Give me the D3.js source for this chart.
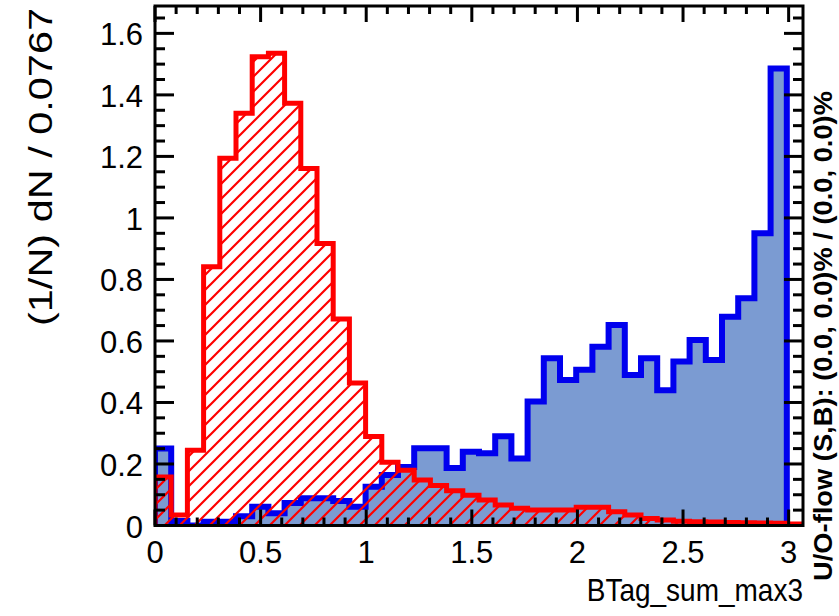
<!DOCTYPE html>
<html>
<head>
<meta charset="utf-8">
<script src="https://cdn.jsdelivr.net/npm/d3@7"></script>
<style>
  body { margin: 0; background: #fff; }
  text { font-family: "Liberation Sans", Arial, Helvetica, sans-serif; }
</style>
</head>
<body>
<script>
// DATA

const binWidth = 0.0767;
const nBins = 40;

// red hatched histogram
const redValues = [0.158, 0.034, 0.245, 0.841, 1.194, 1.340, 1.524, 1.535, 1.373, 1.161,
                   0.917, 0.671, 0.463, 0.289, 0.206, 0.180, 0.148, 0.130, 0.113, 0.098,
                   0.083, 0.067, 0.056, 0.050, 0.050, 0.050, 0.059, 0.059, 0.045, 0.034,
                   0.023, 0.018, 0.014, 0.012, 0.011, 0.010, 0.009, 0.008, 0.007, 0.005];

// blue filled histogram
const blueValues = [0.250, 0.015, 0.000, 0.012, 0.012, 0.030, 0.061, 0.040, 0.073, 0.089,
                    0.089, 0.080, 0.061, 0.126, 0.164, 0.190, 0.251, 0.251, 0.187, 0.240,
                    0.235, 0.290, 0.218, 0.403, 0.544, 0.473, 0.506, 0.581, 0.652, 0.489,
                    0.544, 0.440, 0.533, 0.603, 0.538, 0.679, 0.739, 0.950, 1.486, 0.000];

const xTickLabels = [0, 0.5, 1, 1.5, 2, 2.5, 3];
const yTickLabels = [0, 0.2, 0.4, 0.6, 0.8, 1, 1.2, 1.4, 1.6];
const yMax = 1.689;

const xTitle = "BTag_sum_max3";
const yTitle = "(1/N) dN / 0.0767";
const flowText = "U/O-flow (S,B): (0.0, 0.0)% / (0.0, 0.0)%";

// MAKE THE CHART

const W = 839;
const H = 616;
const L = 155, R = 803, T = 6, B = 525.5;

const svg = d3.select("body")
  .append("svg")
  .attr("width", W)
  .attr("height", H);

const xScale = d3.scaleLinear().domain([0, nBins * binWidth]).range([L, R]);
const yScale = d3.scaleLinear().domain([0, yMax]).range([B, T]);

const defs = svg.append("defs");

defs.append("clipPath")
  .attr("id", "frame-clip")
  .append("rect")
  .attr("x", L).attr("y", T)
  .attr("width", R - L).attr("height", B - T);

const hatch = defs.append("pattern")
  .attr("id", "hatch")
  .attr("patternUnits", "userSpaceOnUse")
  .attr("width", 15)
  .attr("height", 15);
hatch.append("path")
  .attr("d", "M-2,2 L2,-2 M0,15 L15,0 M13,17 L17,13")
  .attr("stroke", "#ff0000")
  .attr("stroke-width", 2.2);

// turn bin values into step points
function steps(values) {
  const pts = [[0, 0]];
  values.forEach((v, i) => {
    pts.push([i * binWidth, v]);
    pts.push([(i + 1) * binWidth, v]);
  });
  pts.push([values.length * binWidth, 0]);
  return pts;
}

const line = d3.line()
  .x(d => xScale(d[0]))
  .y(d => yScale(d[1]));

const plot = svg.append("g").attr("clip-path", "url(#frame-clip)");

const bluePts = steps(blueValues);
const redPts = steps(redValues);

plot.append("path")
  .attr("d", line(bluePts) + "Z")
  .attr("fill", "#7b9bd2")
  .attr("stroke", "none");

plot.append("path")
  .attr("d", line(bluePts))
  .attr("fill", "none")
  .attr("stroke", "#0000ee")
  .attr("stroke-width", 6)
  .attr("stroke-linejoin", "miter");

plot.append("path")
  .attr("d", line(redPts) + "Z")
  .attr("fill", "url(#hatch)")
  .attr("stroke", "none");

plot.append("path")
  .attr("d", line(redPts))
  .attr("fill", "none")
  .attr("stroke", "#ff0000")
  .attr("stroke-width", 5)
  .attr("stroke-linejoin", "miter");

// TICKS (all four sides, pointing in)

const xMinor = d3.range(0, 31).map(i => i / 10);
const yMinor = d3.range(0, 34).map(i => i * 0.05).filter(v => v <= yMax);

const ticks = svg.append("g")
  .attr("stroke", "#000")
  .attr("stroke-width", 3);

xMinor.forEach(v => {
  const major = Math.abs(v * 2 - Math.round(v * 2)) < 1e-6;
  const len = major ? 16 : 8;
  const px = xScale(v);
  ticks.append("line").attr("x1", px).attr("x2", px).attr("y1", B).attr("y2", B - len);
  ticks.append("line").attr("x1", px).attr("x2", px).attr("y1", T).attr("y2", T + len);
});

yMinor.forEach(v => {
  const major = Math.abs(v * 5 - Math.round(v * 5)) < 1e-6;
  const len = major ? 19 : 10;
  const py = yScale(v);
  ticks.append("line").attr("x1", L).attr("x2", L + len).attr("y1", py).attr("y2", py);
  ticks.append("line").attr("x1", R).attr("x2", R - len).attr("y1", py).attr("y2", py);
});

svg.append("rect")
  .attr("x", L).attr("y", T)
  .attr("width", R - L).attr("height", B - T)
  .attr("fill", "none")
  .attr("stroke", "#000")
  .attr("stroke-width", 3);

// tick labels
svg.append("g")
  .selectAll("text")
  .data(xTickLabels)
  .enter()
  .append("text")
  .attr("x", d => xScale(d))
  .attr("y", 563)
  .attr("text-anchor", "middle")
  .style("font-size", "31px")
  .text(d => d);

svg.append("g")
  .selectAll("text")
  .data(yTickLabels)
  .enter()
  .append("text")
  .attr("x", 143)
  .attr("y", d => yScale(d) + 12)
  .attr("text-anchor", "end")
  .style("font-size", "31px")
  .text(d => d);

// titles
svg.append("text")
  .text(xTitle)
  .attr("transform", `translate(${R}, 601) scale(1, 1.12)`)
  .attr("text-anchor", "end")
  .style("font-size", "28px");

svg.append("text")
  .text(yTitle)
  .attr("transform", `translate(52, 8) rotate(-90)`)
  .attr("text-anchor", "end")
  .attr("textLength", 318)
  .attr("lengthAdjust", "spacingAndGlyphs")
  .style("font-size", "34px");

svg.append("text")
  .text(flowText)
  .attr("transform", `translate(832, 581) rotate(-90)`)
  .attr("text-anchor", "start")
  .attr("textLength", 490)
  .attr("lengthAdjust", "spacingAndGlyphs")
  .style("font-size", "25px")
  .style("font-weight", "bold");
</script>
</body>
</html>
